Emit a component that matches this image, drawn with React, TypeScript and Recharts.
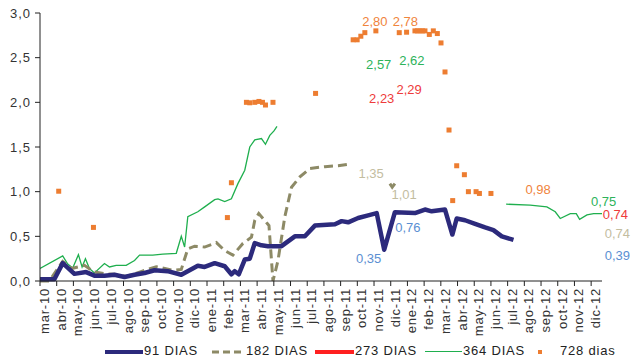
import React from 'react';
import { ComposedChart, Line, Scatter, XAxis, YAxis, ReferenceDot } from 'recharts';

// month axis: 0 = mar-10, 1 = abr-10, ...
const monthLabels = [
  'mar-10', 'abr-10', 'may-10', 'jun-10', 'jul-10', 'ago-10', 'sep-10', 'oct-10', 'nov-10', 'dic-10',
  'ene-11', 'feb-11', 'mar-11', 'abr-11', 'may-11', 'jun-11', 'jul-11', 'ago-11', 'sep-11', 'oct-11',
  'nov-11', 'dic-11', 'ene-12', 'feb-12', 'mar-12', 'abr-12', 'may-12', 'jun-12', 'jul-12', 'ago-12',
  'sep-12', 'oct-12', 'nov-12', 'dic-12',
];
const yTicks = [0, 0.5, 1, 1.5, 2, 2.5, 3];

// [month, rate]
const dias91: [number, number | null][] = [
  [0, 0.02], [0.86, 0.02], [1.36, 0.2], [2.06, 0.08], [2.76, 0.1], [3.26, 0.06], [3.86, 0.06],
  [4.46, 0.07], [5.06, 0.045], [5.66, 0.07], [6.26, 0.09], [6.86, 0.12], [7.64, 0.11], [8.46, 0.07],
  [9.45, 0.17], [9.86, 0.157], [10.46, 0.2], [11.06, 0.165], [11.46, 0.075], [11.66, 0.11], [11.9, 0.075],
  [12.26, 0.24], [12.56, 0.25], [12.86, 0.425], [13.26, 0.4], [13.65, 0.39], [14.46, 0.39], [15.26, 0.5],
  [15.86, 0.5], [16.46, 0.62], [17.66, 0.635], [18.06, 0.67], [18.45, 0.657], [19.05, 0.705], [19.65, 0.735],
  [20.16, 0.76], [20.61, 0.35], [21.25, 0.77], [22.45, 0.76], [23.05, 0.8], [23.45, 0.78], [24.25, 0.8],
  [24.69, 0.52], [24.95, 0.7], [25.45, 0.68], [26.05, 0.64], [26.65, 0.6], [27.15, 0.57], [27.65, 0.5],
  [28.35, 0.46],
];

const dias182: [number, number | null][] = [
  [0, 0], [0.56, 0], [1.36, 0.22], [1.88, 0.14], [2.66, 0.175], [3.26, 0.1], [3.96, 0.08], [4.46, 0.075],
  [5.16, 0.05], [5.96, 0.1], [6.96, 0.16], [7.95, 0.12], [8.46, 0.13], [8.85, 0.36], [9.26, 0.39],
  [9.86, 0.38], [10.56, 0.43], [11.06, 0.34], [11.55, 0.29], [12.15, 0.42], [12.66, 0.49], [12.86, 0.68],
  [13.1, 0.755], [13.35, 0.7], [13.62, 0.64], [13.71, 0.62], [13.95, 0], [14.25, 0.23], [14.66, 0.72],
  [15.06, 1.05], [15.56, 1.165], [16.16, 1.26], [17.06, 1.28], [17.85, 1.29], [18.55, 1.31],
  [19.8, null], [20.95, 1.09], [21.09, 1.05], [21.25, 1.09],
];

const dias364: [number, number | null][] = [
  [0, 0.14], [1.36, 0.28], [1.66, 0.19], [1.96, 0.146], [2.3, 0.295], [2.52, 0.157], [2.72, 0.25],
  [2.96, 0.14], [3.26, 0.09], [3.86, 0.195], [4.16, 0.157], [4.56, 0.175], [5.16, 0.175], [5.66, 0.23],
  [5.96, 0.29], [6.75, 0.29], [7.35, 0.3], [8.16, 0.31], [8.46, 0.5], [8.66, 0.38], [8.85, 0.72],
  [9.45, 0.775], [9.86, 0.83], [10.46, 0.91], [10.66, 0.92], [11.06, 0.89], [11.46, 0.92], [11.85, 1.09],
  [12.26, 1.24], [12.56, 1.5], [12.86, 1.58], [13.26, 1.595], [13.5, 1.53], [13.76, 1.63], [14.01, 1.68],
  [14.19, 1.73],
  [20, null], [27.91, 0.86], [29.35, 0.85], [30.35, 0.83], [30.85, 0.775], [31.15, 0.7], [31.75, 0.755],
  [32.11, 0.755], [32.31, 0.69], [32.75, 0.74], [33.15, 0.755], [33.65, 0.755],
];

const dias728: [number, number][] = [
  [1.12, 1.005], [3.2, 0.6], [11.22, 0.71], [11.46, 1.1], [12.36, 2.0], [12.56, 1.995], [12.86, 2.0],
  [13.11, 2.01], [13.32, 2.0], [13.5, 1.97], [13.95, 2.0], [16.5, 2.1], [18.75, 2.7], [18.99, 2.7],
  [19.21, 2.74], [19.45, 2.78], [20.11, 2.8], [21.51, 2.78], [21.95, 2.785], [22.45, 2.8], [22.6, 2.8],
  [22.75, 2.8], [22.9, 2.8], [23.05, 2.8], [23.31, 2.76], [23.55, 2.8], [23.79, 2.77], [24.01, 2.665],
  [24.25, 2.34], [24.49, 1.69], [24.71, 0.9], [24.95, 1.29], [25.41, 1.19], [25.65, 1.0], [26.11, 1.0],
  [26.31, 0.98], [27.0, 0.98],
];

// value labels written on the chart
const valueLabels = [
  { m: 20.05, v: 2.91, text: '2,80', color: '#f0843c' },
  { m: 21.88, v: 2.91, text: '2,78', color: '#f0843c' },
  { m: 20.28, v: 2.43, text: '2,57', color: '#2db35a' },
  { m: 22.27, v: 2.47, text: '2,62', color: '#2db35a' },
  { m: 20.46, v: 2.04, text: '2,23', color: '#ee3b3b' },
  { m: 22.1, v: 2.15, text: '2,29', color: '#ee3b3b' },
  { m: 19.83, v: 1.21, text: '1,35', color: '#c3bd9f' },
  { m: 21.8, v: 0.97, text: '1,01', color: '#c3bd9f' },
  { m: 22.03, v: 0.6, text: '0,76', color: '#5b8fd2' },
  { m: 19.68, v: 0.25, text: '0,35', color: '#5b8fd2' },
  { m: 29.82, v: 1.02, text: '0,98', color: '#f0843c' },
  { m: 33.75, v: 0.89, text: '0,75', color: '#2db35a' },
  { m: 34.45, v: 0.75, text: '0,74', color: '#ee3b3b' },
  { m: 34.57, v: 0.53, text: '0,74', color: '#c3bd9f' },
  { m: 34.57, v: 0.29, text: '0,39', color: '#5b8fd2' },
];

const toRows = (pts: [number, number | null][]) => pts.map(([m, v]) => ({ m, v }));

const FONT = '"Liberation Sans", Arial, sans-serif';

const MonthTick = (props: any) => {
  const { x, y, payload } = props;
  return (
    <text
      x={x}
      y={y}
      dy={9}
      transform={`rotate(-90, ${x}, ${y})`}
      textAnchor="end"
      fill="#333"
      fontSize={13}
      letterSpacing={0.8}
      fontFamily={FONT}
    >
      {monthLabels[payload.value]}
    </text>
  );
};

const Square = (props: any) => {
  const { cx, cy } = props;
  return <rect x={cx - 2.5} y={cy - 2.5} width={5} height={5} fill="#ed7d31" />;
};

const legendText: React.CSSProperties = {
  position: 'absolute',
  top: 343,
  fontSize: 13,
  letterSpacing: 0.8,
  color: '#222',
  fontFamily: FONT,
};

export default function App() {
  return (
    <div style={{ position: 'absolute', left: 0, top: 0, width: 631, height: 362, background: '#fff', fontFamily: FONT }}>
      <ComposedChart width={631} height={362} margin={{ top: 13, right: 29, bottom: 21, left: 0 }}>
        <XAxis
          dataKey="m"
          type="number"
          domain={[0, 33.65]}
          ticks={monthLabels.map((_, i) => i)}
          interval={0}
          allowDataOverflow
          height={60}
          tickSize={5}
          tickMargin={2}
          stroke="#222"
          tick={<MonthTick />}
        />
        <YAxis
          type="number"
          domain={[0, 3]}
          ticks={yTicks}
          width={40}
          tickSize={5}
          tickMargin={4}
          stroke="#222"
          tick={{ fill: '#333', fontSize: 13, letterSpacing: 1, fontFamily: FONT }}
          tickFormatter={(v: number) => v.toFixed(1).replace('.', ',')}
        />
        <Line
          data={toRows(dias364)}
          dataKey="v"
          type="linear"
          stroke="#1faf4e"
          strokeWidth={1.3}
          dot={false}
          isAnimationActive={false}
        />
        <Line
          data={toRows(dias182)}
          dataKey="v"
          type="linear"
          stroke="#8d8a66"
          strokeWidth={3}
          strokeDasharray="9 5"
          dot={false}
          isAnimationActive={false}
        />
        <Line
          data={toRows(dias91)}
          dataKey="v"
          type="linear"
          stroke="#2c2a7c"
          strokeWidth={4.5}
          strokeLinejoin="round"
          dot={false}
          isAnimationActive={false}
        />
        <Scatter data={toRows(dias728)} dataKey="v" shape={<Square />} isAnimationActive={false} />
        {valueLabels.map((l, i) => (
          <ReferenceDot
            key={i}
            x={l.m}
            y={l.v}
            r={0}
            fill="none"
            stroke="none"
            ifOverflow="visible"
            label={{ value: l.text, position: 'center', fill: l.color, fontSize: 13, fontFamily: FONT }}
          />
        ))}
      </ComposedChart>

      {/* legend */}
      <div style={{ position: 'absolute', left: 105, top: 350, width: 38, height: 4, background: '#2c2a7c' }} />
      <div style={{ ...legendText, left: 144 }}>91 DIAS</div>
      <svg style={{ position: 'absolute', left: 212, top: 349 }} width={30} height={6}>
        <line x1={0} y1={3} x2={30} y2={3} stroke="#8d8a66" strokeWidth={3} strokeDasharray="7 4" />
      </svg>
      <div style={{ ...legendText, left: 246 }}>182 DIAS</div>
      <div style={{ position: 'absolute', left: 315, top: 350, width: 39, height: 4, background: '#ff2020' }} />
      <div style={{ ...legendText, left: 355 }}>273 DIAS</div>
      <div style={{ position: 'absolute', left: 425, top: 351, width: 37, height: 1.3, background: '#1faf4e' }} />
      <div style={{ ...legendText, left: 463 }}>364 DIAS</div>
      <div style={{ position: 'absolute', left: 538, top: 350, width: 4, height: 4, background: '#ed7d31' }} />
      <div style={{ ...legendText, left: 560 }}>728 dias</div>
    </div>
  );
}
